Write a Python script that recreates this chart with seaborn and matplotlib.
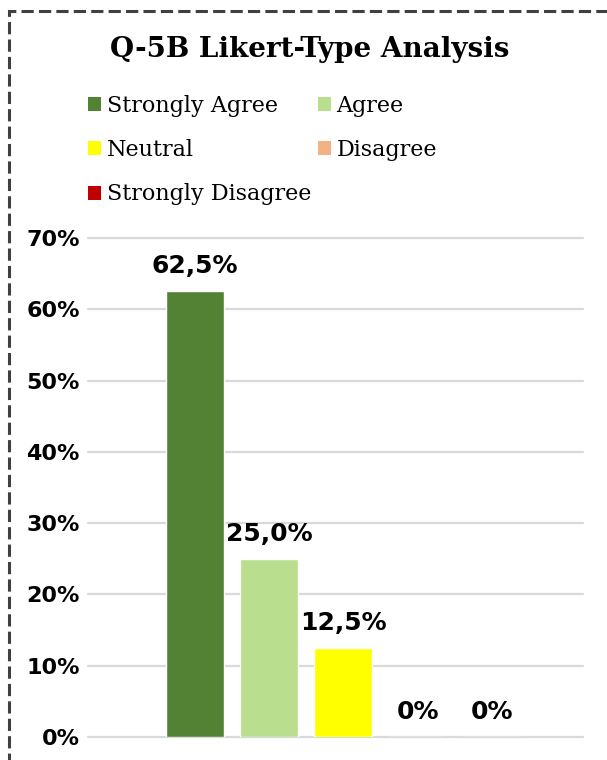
import seaborn as sns
import matplotlib.pyplot as plt
from matplotlib.patches import Patch, Rectangle

sns.set_theme(style="white")

responses = ["Strongly Agree", "Agree", "Neutral", "Disagree", "Strongly Disagree"]
shares = [62.5, 25.0, 12.5, 0.0, 0.0]
colors = ["#548235", "#B9DF8E", "#FFFF00", "#F4B183", "#C00000"]
yticks = [0, 10, 20, 30, 40, 50, 60, 70]

W, H = 607, 760
fig = plt.figure(figsize=(W / 100, H / 100), dpi=100)
ax = fig.add_axes([88 / W, 23 / H, 495 / W, 499 / H])

sns.barplot(x=responses, y=shares, hue=responses, palette=colors,
            width=0.78, saturation=1, legend=False, ax=ax)

ax.set_xlim(-1.44, 5.23)
ax.set_ylim(0, 70)
ax.set_yticks(yticks)
ax.set_yticklabels([f"{t}%" for t in yticks], fontsize=16, fontweight="bold",
                   family="DejaVu Sans")
ax.tick_params(axis="y", length=0, pad=6, colors="black")
ax.set_xticks([])
ax.set_xlabel("")
ax.set_ylabel("")
ax.yaxis.grid(True, color="#d9d9d9", lw=1.6)
for gl in ax.get_ygridlines():
    gl.set_clip_on(False)
ax.set_axisbelow(True)
for s in ax.spines.values():
    s.set_visible(False)

# data labels, decimal comma like the original
for i, v in enumerate(shares):
    lab = f"{v:.1f}%".replace(".", ",") if v else "0%"
    ax.annotate(lab, (i, v), xytext=(0, 13), textcoords="offset points",
                ha="center", va="baseline", fontsize=18, fontweight="bold",
                family="DejaVu Sans", color="black", annotation_clip=False)

# legend, row-major order in 2 columns
handles = [Patch(facecolor=c, edgecolor="none", label=r) for r, c in zip(responses, colors)]
order = [0, 2, 4, 1, 3]
fig.legend([handles[i] for i in order], [responses[i] for i in order],
           ncol=2, loc="upper left", bbox_to_anchor=(88 / W, 1 - 95 / H),
           frameon=False, borderpad=0, borderaxespad=0,
           handlelength=0.59, handleheight=0.59, handletextpad=0.25,
           labelspacing=1.0, columnspacing=0.3, labelcolor="black",
           prop={"family": "DejaVu Serif", "size": 16})

fig.text(0.51, 1 - 57 / H, "Q-5B Likert-Type Analysis", ha="center", va="baseline",
         fontsize=20, fontweight="bold", family="DejaVu Serif", color="black")

# dashed frame, cut by the right and bottom edge
frame = Rectangle((8.5 / W, -0.1), 1.2, 1 - 10.5 / H + 0.1, transform=fig.transFigure,
                  fill=False, edgecolor="#404040", lw=2.2, linestyle=(0, (4, 1.7)),
                  clip_on=False)
fig.add_artist(frame)

fig.savefig("out.png", dpi=100)
